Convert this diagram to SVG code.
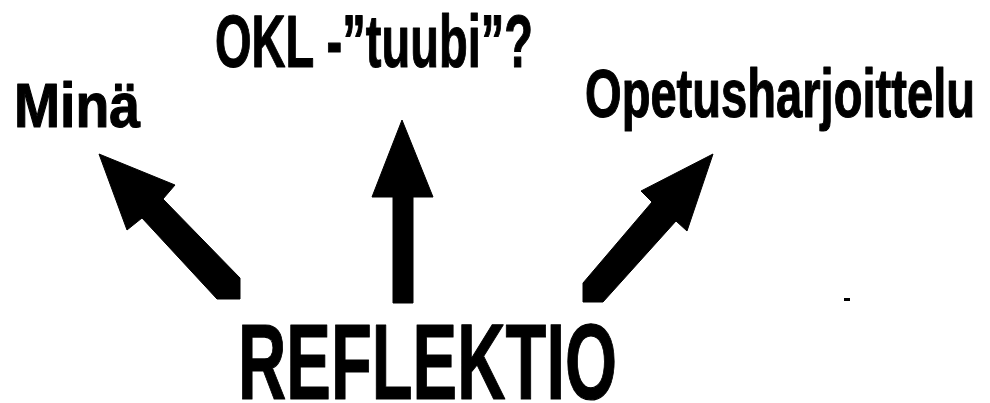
<svg xmlns="http://www.w3.org/2000/svg" width="990" height="403" viewBox="0 0 990 403">
  <style>
    .lbl { font-family: "Liberation Sans Narrow", "Liberation Sans", "DejaVu Sans", sans-serif; font-weight: bold; fill: #000; stroke: #000; stroke-width: 1.2; stroke-linejoin: round; }
    .arrow { fill: #000; stroke: #000; stroke-width: 1; stroke-linejoin: miter; }
  </style>
  <rect width="990" height="403" fill="#fff"/>
  <g id="node-mina">
    <text class="lbl" x="14" y="127" font-size="63" textLength="126" lengthAdjust="spacingAndGlyphs">Minä</text>
  </g>
  <g id="node-okl">
    <text class="lbl" x="215" y="67" font-size="75" textLength="318" lengthAdjust="spacingAndGlyphs">OKL -”tuubi”?</text>
  </g>
  <g id="node-opetus">
    <text class="lbl" x="585" y="117" font-size="68" textLength="390" lengthAdjust="spacingAndGlyphs">Opetusharjoittelu</text>
  </g>
  <g id="node-reflektio">
    <text class="lbl" x="238" y="399" font-size="108" textLength="379" lengthAdjust="spacingAndGlyphs">REFLEKTIO</text>
  </g>
  <g id="connectors">
    <polygon class="arrow" points="99,154 175,185 163,199 240,278 240,299 217,299 142,218 127,230"/>
    <polygon class="arrow" points="402,120 433,197 413,197 413,303 393,303 393,197 372,197"/>
    <polygon class="arrow" points="713,154 687,231 676,221 603,302 583,302 583,283 652,202 641,191"/>
  </g>
  <rect x="844" y="298" width="6" height="3" fill="#000"/>
</svg>
